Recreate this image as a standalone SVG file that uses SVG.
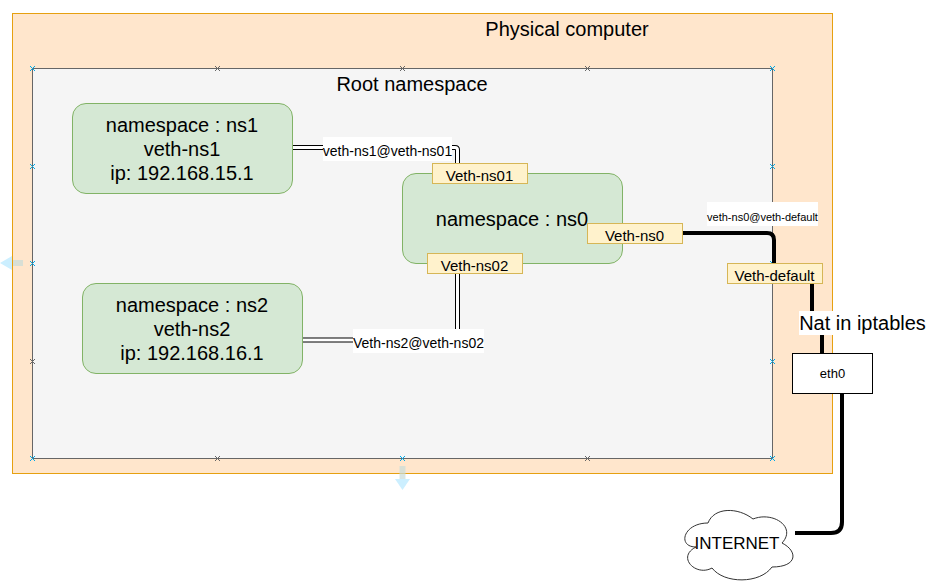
<svg xmlns="http://www.w3.org/2000/svg" width="944" height="583" viewBox="0 0 944 583">
<style>
text{font-family:"Liberation Sans",Arial,sans-serif;fill:#000;text-anchor:middle}
.g{fill:#d5e8d4;stroke:#82b366}
.y{fill:#fff2cc;stroke:#d6b656}
.t20{font-size:20px}
.t15{font-size:15px}
.thick{fill:none;stroke:#000;stroke-width:4}
.dbl{fill:none;stroke:#000;stroke-width:5}
.dbi{fill:none;stroke:#fff;stroke-width:3}
.lb{fill:#fff}
.bx{fill:none;stroke:#00a8e8;stroke-width:1}
.gx{fill:none;stroke:#666;stroke-width:1}
</style>
<defs>
<path id="bl" class="bx" d="M-2.500-2.500L2.500 2.500M-2.500 2.500L2.500-2.500"/>
<path id="gr" class="gx" d="M-2.500-2.500L2.500 2.500M-2.500 2.500L2.500-2.500"/>
</defs>
<g id="physical"><rect x="12.500" y="13.500" width="820" height="460" fill="#ffe6cc" stroke="#e6a010"/><text class="t20" x="567" y="36">Physical computer</text></g>
<g id="root"><rect x="32.500" y="68.500" width="740" height="390" fill="#f5f5f5" stroke="#666"/><text class="t20" x="412" y="91">Root namespace</text></g>
<g id="handles">
<use href="#bl" x="32.500" y="68.500"/><use href="#gr" x="217.500" y="68.500"/><use href="#gr" x="402.500" y="68.500"/><use href="#gr" x="587.500" y="68.500"/><use href="#bl" x="772.500" y="68.500"/>
<use href="#bl" x="32.500" y="166.500"/><use href="#bl" x="772.500" y="166.500"/>
<use href="#bl" x="32.500" y="263.500"/><use href="#bl" x="772.500" y="263.500"/>
<use href="#gr" x="32.500" y="361.500"/><use href="#bl" x="772.500" y="361.500"/>
<use href="#bl" x="32.500" y="458.500"/><use href="#gr" x="217.500" y="458.500"/><use href="#bl" x="402.500" y="458.500"/><use href="#gr" x="587.500" y="458.500"/><use href="#bl" x="772.500" y="458.500"/>
<path d="M13 260h10v6h-10z" fill="#c8dcd8" opacity=".7"/><path d="M0 263L12 256V270Z" fill="#ccefff"/>
<path d="M399.500 466h6v13h-6z" fill="#c8dcd8" opacity=".7"/><path d="M395 479H410L402.500 490Z" fill="#ccefff"/>
</g>
<g id="connectors">
<path class="dbl" d="M293 147.500H455Q457.500 147.500 457.500 150V164"/><path class="dbi" d="M293 147.500H455Q457.500 147.500 457.500 150V164"/>
<path class="dbl" d="M457.500 274V340H303"/><path class="dbi" d="M457.500 274V340H303"/>
<path class="thick" d="M682 233H767Q774 233 774 240V264"/>
<path class="thick" d="M812 284V315"/>
<path class="thick" d="M822 330V353"/>
<path class="thick" d="M842 393V522Q842 533 831 533H795"/>
<rect class="lb" x="323" y="137" width="129" height="24"/>
<text x="387.500" y="156" style="font-size:14px">veth-ns1@veth-ns01</text>
<rect class="lb" x="353" y="329" width="131" height="24"/>
<text x="418.500" y="348" style="font-size:14px">Veth-ns2@veth-ns02</text>
<rect class="lb" x="707" y="202" width="111" height="24"/>
<text x="762.500" y="221" style="font-size:11px">veth-ns0@veth-default</text>
<rect class="lb" x="799" y="311" width="127" height="24"/>
<text x="862.500" y="330" class="t20">Nat in iptables</text>
</g>
<g id="ns1"><rect class="g" x="72.500" y="103.500" width="220" height="90" rx="13.500"/><text class="t20" x="182" y="132">namespace : ns1</text><text class="t20" x="182" y="156">veth-ns1</text><text class="t20" x="182" y="180">ip: 192.168.15.1</text></g>
<g id="ns2"><rect class="g" x="82.500" y="283.500" width="220" height="90" rx="13.500"/><text class="t20" x="192" y="312">namespace : ns2</text><text class="t20" x="192" y="336">veth-ns2</text><text class="t20" x="192" y="360">ip: 192.168.16.1</text></g>
<g id="ns0"><rect class="g" x="402.500" y="173.500" width="220" height="90" rx="13.500"/><text class="t20" x="512" y="226">namespace : ns0</text></g>
<g id="veth-ns01"><rect class="y" x="432.500" y="163.500" width="95" height="20"/><text class="t15" x="479.500" y="181">Veth-ns01</text></g>
<g id="veth-ns02"><rect class="y" x="427.500" y="253.500" width="95" height="20"/><text class="t15" x="474.500" y="271">Veth-ns02</text></g>
<g id="veth-ns0"><rect class="y" x="587.500" y="223.500" width="95" height="20"/><text class="t15" x="634.500" y="241">Veth-ns0</text></g>
<g id="veth-default"><rect class="y" x="727.500" y="263.500" width="95" height="20"/><text class="t15" x="774.500" y="281">Veth-default</text></g>
<g id="eth0"><rect x="792.500" y="353.500" width="80" height="40" fill="#fff" stroke="#000"/><text x="832.500" y="378" style="font-size:13px">eth0</text></g>
<g id="internet"><path d="M708 523C683 523 677 547 696 547C676 557 696 577 712 568C724 584 760 584 772 567C798 567 798 551 782 543C797 527 773 511 753 519C738 507 714 507 708 523Z" fill="#fff" stroke="#333"/><text x="737" y="549" style="font-size:17px">INTERNET</text></g>
</svg>
